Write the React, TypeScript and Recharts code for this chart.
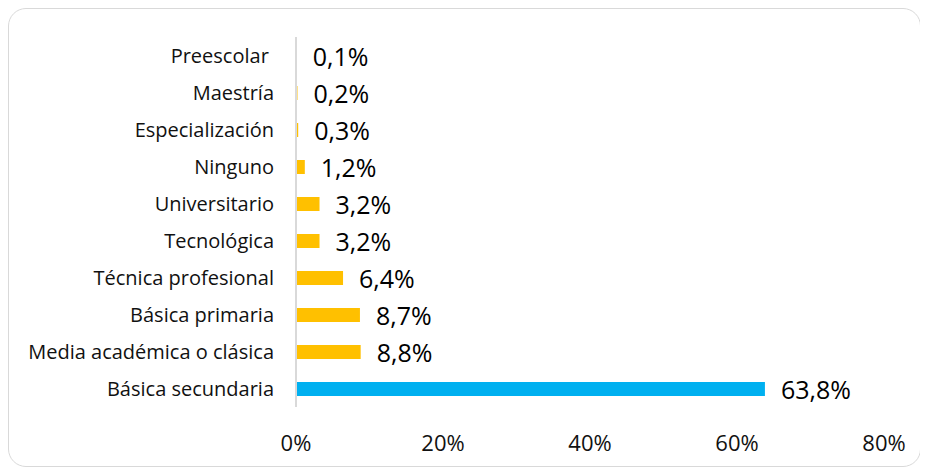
import React from 'react';
import { BarChart, Bar, XAxis, YAxis, Cell, LabelList } from 'recharts';

const categories = [
  'Preescolar ',
  'Maestría',
  'Especialización',
  'Ninguno',
  'Universitario',
  'Tecnológica',
  'Técnica profesional',
  'Básica primaria',
  'Media académica o clásica',
  'Básica secundaria',
];
const values = [0.1, 0.2, 0.3, 1.2, 3.2, 3.2, 6.4, 8.7, 8.8, 63.8];
const xTicks = [0, 20, 40, 60, 80];
const highlight = 'Básica secundaria';

const GOLD = '#FFC000';
const BLUE = '#00B0F0';
const FONT = '"Open Sans", "Noto Sans", sans-serif';

const data = categories.map((c, i) => ({ name: c, value: values[i] }));

const YTick = (props: any) => {
  const { x, y, payload } = props;
  return (
    <text
      x={x}
      y={y}
      dy="0.355em"
      textAnchor="end"
      fill="#111"
      fontSize={20}
      fontFamily={FONT}
      style={{ whiteSpace: 'pre' }}
    >
      {payload.value}
    </text>
  );
};

const XTick = (props: any) => {
  const { x, y, payload } = props;
  return (
    <text
      x={x}
      y={y}
      dy="0.355em"
      textAnchor="middle"
      fill="#111"
      fontSize={22}
      fontFamily={FONT}
    >
      {`${payload.value}%`}
    </text>
  );
};

const ValueLabel = (props: any) => {
  const vb = props.viewBox || {};
  const x = props.x ?? vb.x;
  const y = props.y ?? vb.y;
  const w = props.width ?? vb.width;
  const h = props.height ?? vb.height;
  const v = Number(props.value);
  return (
    <text
      x={x + w + 16}
      y={y + h / 2 + 1.5}
      dy="0.355em"
      textAnchor="start"
      fill="#000"
      fontSize={25}
      fontFamily={FONT}
    >
      {v.toFixed(1).replace('.', ',') + '%'}
    </text>
  );
};

export default function App() {
  return (
    <div
      style={{
        width: 913,
        height: 459,
        border: '1px solid #d9d9d9',
        borderRadius: 18,
        boxSizing: 'border-box',
        background: '#fff',
        overflow: 'hidden',
      }}
    >
      <BarChart
        width={911}
        height={457}
        data={data}
        layout="vertical"
        margin={{ top: 28, right: 36, left: 0, bottom: 0 }}
      >
        <XAxis
          type="number"
          domain={[0, 80]}
          ticks={xTicks}
          axisLine={false}
          tickLine={false}
          tickSize={0}
          tickMargin={36}
          height={59}
          tick={<XTick />}
          interval={0}
        />
        <YAxis
          type="category"
          dataKey="name"
          width={287}
          axisLine={{ stroke: '#d9d9d9', strokeWidth: 2 }}
          tickLine={false}
          tickSize={0}
          tickMargin={22}
          tick={<YTick />}
          interval={0}
        />
        <Bar dataKey="value" barSize={14} isAnimationActive={false}>
          {data.map((d) => (
            <Cell key={d.name} fill={d.name === highlight ? BLUE : GOLD} />
          ))}
          <LabelList dataKey="value" content={<ValueLabel />} />
        </Bar>
      </BarChart>
    </div>
  );
}
